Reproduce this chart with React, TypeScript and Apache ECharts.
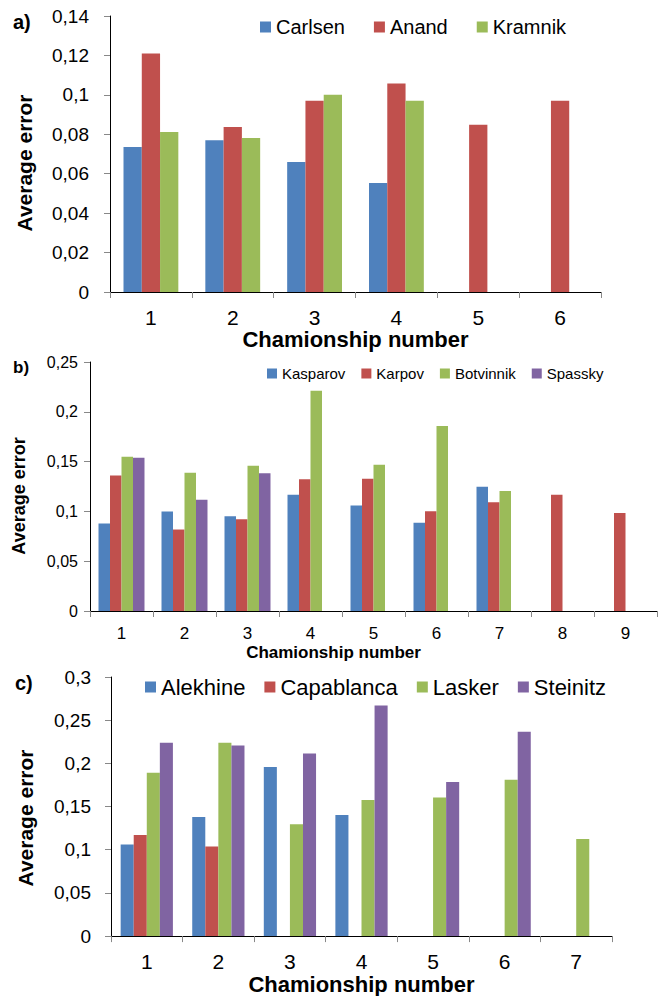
import React, { useEffect, useRef } from "react";
import * as echarts from "echarts";

// Panel a
const catsA = ["1", "2", "3", "4", "5", "6"];
const carlsen = [0.0735, 0.077, 0.066, 0.0553, null, null];
const anand = [0.121, 0.0837, 0.097, 0.1057, 0.0849, 0.097];
const kramnik = [0.0812, 0.0781, 0.1, 0.097, null, null];

// Panel b
const catsB = ["1", "2", "3", "4", "5", "6", "7", "8", "9"];
const kasparov = [0.0878, 0.1, 0.0952, 0.1166, 0.1059, 0.0885, 0.1247, null, null];
const karpov = [0.136, 0.0818, 0.0922, 0.1324, 0.1327, 0.1002, 0.1093, 0.1166, 0.0985];
const botvinnik = [0.1548, 0.1387, 0.1458, 0.2212, 0.1468, 0.1857, 0.1206, null, null];
const spassky = [0.1538, 0.1116, 0.1384, null, null, null, null, null, null];

// Panel c
const catsC = ["1", "2", "3", "4", "5", "6", "7"];
const alekhine = [0.106, 0.1379, 0.1958, 0.1401, null, null, null];
const capablanca = [0.117, 0.1038, null, null, null, null, null];
const lasker = [0.189, 0.2239, 0.1295, 0.1576, 0.1606, 0.181, 0.1125];
const steinitz = [0.224, 0.2208, 0.2114, 0.267, 0.1784, 0.2367, null];

const BLUE = "#4F81BD";
const RED = "#C0504D";
const GREEN = "#9BBB59";
const PURPLE = "#8064A2";

const FA = "'Liberation Sans', Arial, sans-serif";
const FB = "'Liberation Sans Narrow', 'Arial Narrow', 'Liberation Sans', sans-serif";

const fmt = (v: number) => String(Number(v.toFixed(4))).replace(".", ",");

export default function App() {
  const ref = useRef<HTMLDivElement>(null);
  useEffect(() => {
    if (!ref.current) return;
    const chart = echarts.init(ref.current, null, { renderer: "svg" });

    const xAx = (gi: number, data: string[], font: string, size: number, margin: number, name: string, nameSize: number, nameGap: number, nameFont: string, namePad?: number[]) => ({
      type: "category",
      gridIndex: gi,
      data,
      boundaryGap: true,
      axisLine: { lineStyle: { color: "#000", width: 1 } },
      axisTick: { show: true, inside: false, length: 6, lineStyle: { color: "#888" } },
      axisLabel: { color: "#000", fontFamily: font, fontSize: size, margin },
      name,
      nameLocation: "middle",
      nameGap,
      nameTextStyle: { color: "#000", fontFamily: nameFont, fontWeight: "bold", fontSize: nameSize, padding: namePad },
    });
    const yAx = (gi: number, max: number, interval: number, font: string, size: number, margin: number) => ({
      type: "value",
      gridIndex: gi,
      min: 0,
      max,
      interval,
      axisLine: { show: true, lineStyle: { color: "#000", width: 1 } },
      axisTick: { show: true, inside: false, length: 6, lineStyle: { color: "#888" } },
      splitLine: { show: false },
      axisLabel: { color: "#000", fontFamily: font, fontSize: size, margin, formatter: fmt },
    });
    const bar = (name: string, data: (number | null)[], color: string, gi: number, gap: string) => ({
      type: "bar",
      name,
      data,
      xAxisIndex: gi,
      yAxisIndex: gi,
      barGap: "0%",
      barCategoryGap: gap,
      itemStyle: { color },
    });
    const legend = (data: string[], left: number, top: number, font: string, size: number, gap: number, icon: number) => ({
      data,
      left,
      top,
      orient: "horizontal",
      icon: "rect",
      itemWidth: icon,
      itemHeight: icon,
      itemGap: gap,
      textStyle: { color: "#000", fontFamily: font, fontSize: size },
    });
    const rotTitle = (text: string, x: number, y: number, font: string, size: number) => ({
      type: "text",
      x,
      y,
      rotation: Math.PI / 2,
      style: { text, fill: "#000", font: `bold ${size}px ${font}`, textAlign: "center", textVerticalAlign: "middle" },
    });
    const tag = (text: string, x: number, y: number, font: string, size: number) => ({
      type: "text",
      x,
      y,
      style: { text, fill: "#000", font: `bold ${size}px ${font}`, textAlign: "left", textVerticalAlign: "middle" },
    });

    chart.setOption({
      animation: false,
      backgroundColor: "#fff",
      grid: [
        { left: 110, top: 16, width: 491, height: 276 },
        { left: 90, top: 362, width: 567, height: 249 },
        { left: 111, top: 677, width: 501, height: 264 },
      ],
      xAxis: [
        xAx(0, catsA, FA, 21, 15, "Chamionship number", 22, 34, FA),
        xAx(1, catsB, FB, 17, 14, "Chamionship number", 17, 33, FB, [0, 80, 0, 0]),
        xAx(2, catsC, FA, 21, 15, "Chamionship number", 22, 36, FA),
      ],
      yAxis: [
        yAx(0, 0.14, 0.02, FA, 19, 21),
        yAx(1, 0.25, 0.05, FB, 16, 12),
        yAx(2, 0.3, 0.05, FA, 19, 20),
      ],
      legend: [
        legend(["Carlsen", "Anand", "Kramnik"], 255, 12, FA, 20, 29, 11),
        legend(["Kasparov", "Karpov", "Botvinnik", "Spassky"], 262, 361, FB, 15, 16, 10),
        legend(["Alekhine", "Capablanca", "Lasker", "Steinitz"], 140, 671, FA, 22, 19, 11),
      ],
      graphic: [
        tag("a)", 13, 22, FA, 20),
        tag("b)", 13, 367, FB, 17),
        tag("c)", 15, 683, FA, 20),
        rotTitle("Average error", 24, 163, FA, 21),
        rotTitle("Average error", 19, 496, FA, 18),
        rotTitle("Average error", 25, 818, FA, 21),
      ],
      series: [
        bar("Carlsen", carlsen, BLUE, 0, "33%"),
        bar("Anand", anand, RED, 0, "33%"),
        bar("Kramnik", kramnik, GREEN, 0, "33%"),
        bar("Kasparov", kasparov, BLUE, 1, "27%"),
        bar("Karpov", karpov, RED, 1, "27%"),
        bar("Botvinnik", botvinnik, GREEN, 1, "27%"),
        bar("Spassky", spassky, PURPLE, 1, "27%"),
        bar("Alekhine", alekhine, BLUE, 2, "27%"),
        bar("Capablanca", capablanca, RED, 2, "27%"),
        bar("Lasker", lasker, GREEN, 2, "27%"),
        bar("Steinitz", steinitz, PURPLE, 2, "27%"),
      ],
    });
    return () => chart.dispose();
  }, []);
  return <div ref={ref} style={{ position: "absolute", left: 0, top: 0, width: 667, height: 996 }} />;
}
